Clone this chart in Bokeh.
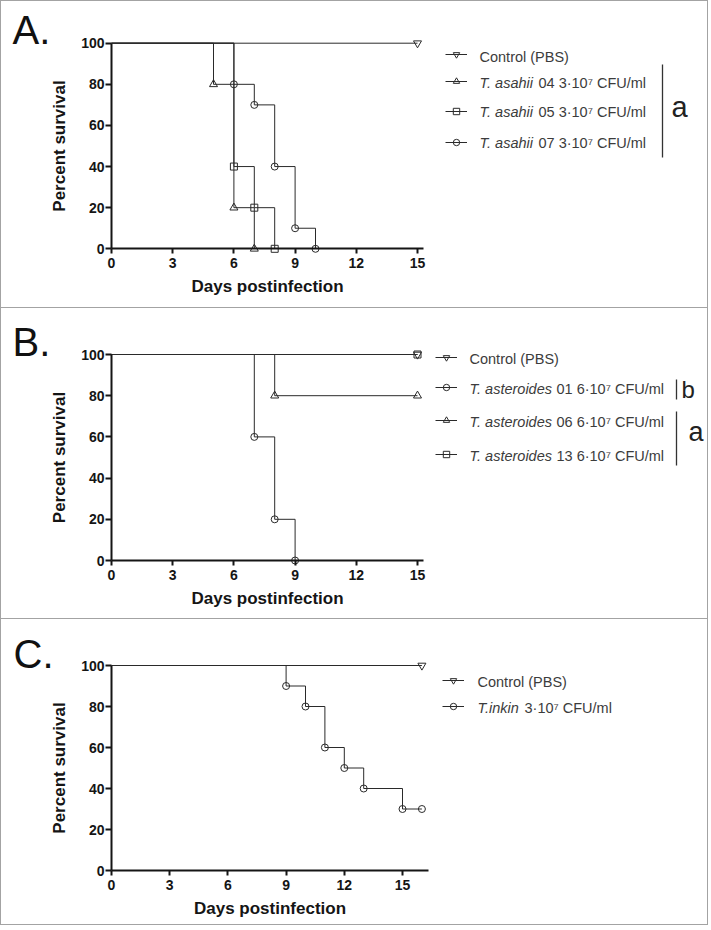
from bokeh.plotting import figure
from bokeh.models import Range1d, FixedTicker, Legend, LegendItem, Label, Arrow, LinearAxis
from bokeh.layouts import column
from bokeh.embed import file_html
from bokeh.resources import INLINE

# ---------------- data ----------------
x_ticks = [0, 3, 6, 9, 12, 15]
y_ticks = [0, 20, 40, 60, 80, 100]

# Panel A
a_ctrl_days = [0, 15]
a_ctrl_surv = [100, 100]
a_04_days = [0, 5, 6, 7]
a_04_surv = [100, 80, 20, 0]
a_05_days = [0, 6, 7, 8]
a_05_surv = [100, 40, 20, 0]
a_07_days = [0, 6, 7, 8, 9, 10]
a_07_surv = [100, 80, 70, 40, 10, 0]
a_italic = ["", "T. asahii", "T. asahii", "T. asahii"]
a_plain = ["Control (PBS)", "04 3\u00b710\u2077 CFU/ml", "05 3\u00b710\u2077 CFU/ml", "07 3\u00b710\u2077 CFU/ml"]
a_markers = ["inverted_triangle", "triangle", "square", "circle"]

# Panel B
b_ctrl_days = [0, 15]
b_ctrl_surv = [100, 100]
b_01_days = [0, 7, 8, 9]
b_01_surv = [100, 60, 20, 0]
b_06_days = [0, 8, 15]
b_06_surv = [100, 80, 80]
b_13_days = [0, 15]
b_13_surv = [100, 100]
b_italic = ["", "T. asteroides", "T. asteroides", "T. asteroides"]
b_plain = ["Control (PBS)", "01 6\u00b710\u2077 CFU/ml", "06 6\u00b710\u2077 CFU/ml", "13 6\u00b710\u2077 CFU/ml"]
b_markers = ["inverted_triangle", "circle", "triangle", "square"]

# Panel C
c_ctrl_days = [0, 16]
c_ctrl_surv = [100, 100]
c_inkin_days = [0, 9, 10, 11, 12, 13, 15, 16]
c_inkin_surv = [100, 90, 80, 60, 50, 40, 30, 30]
c_italic = ["", "T.inkin"]
c_plain = ["Control (PBS)", "3\u00b710\u2077 CFU/ml"]
c_markers = ["inverted_triangle", "circle"]

# ---------------- style ----------------
FONT = "Liberation Sans"
INK = "#151515"
LINE = "#2a2a2a"
TXT = "#3c3c3c"
BORDER = "1px solid #a3a3a3"
CANVAS_W = 708
X0_ABS = 111          # page x of day 0
GH = 16


def make_panel(letter, series, canvas_top, canvas_h, x_pxu, x_bound, y0_abs, y100_abs,
               glyph_x, glyph_rows, text_x, text_rows, plain_dx, italics, plains,
               letter_pos, brackets, last=False):
    styles = {"border-top": BORDER, "border-left": BORDER, "border-right": BORDER}
    if last:
        styles["border-bottom"] = BORDER
    y_pxu = (y0_abs - y100_abs) / 100.0
    canvas_left = 1
    x_start = (canvas_left - X0_ABS) / x_pxu
    x_end = (canvas_left + CANVAS_W - X0_ABS) / x_pxu
    y_end = 100 + (y100_abs - canvas_top) / y_pxu
    y_start = -(canvas_top + canvas_h - y0_abs) / y_pxu

    def sx(ax):
        return ax - canvas_left

    def sy(ay):
        return canvas_top + canvas_h - ay

    p = figure(width=CANVAS_W, height=canvas_h,
               x_range=Range1d(x_start, x_end), y_range=Range1d(y_start, y_end),
               min_border=0, x_axis_location=None, y_axis_location=None,
               toolbar_location=None, output_backend="svg",
               outline_line_color=None, background_fill_color="white",
               border_fill_color="white", styles=styles)
    p.grid.visible = False

    xaxis = LinearAxis(fixed_location=0, bounds=(0, x_bound), ticker=FixedTicker(ticks=x_ticks),
                       axis_label="Days postinfection")
    yaxis = LinearAxis(fixed_location=0, bounds=(0, 100), ticker=FixedTicker(ticks=y_ticks),
                       axis_label="Percent survival")
    for ax in (xaxis, yaxis):
        ax.axis_line_width = 2
        ax.axis_line_color = INK
        ax.major_tick_line_width = 2
        ax.major_tick_line_color = INK
        ax.major_tick_in = 0
        ax.minor_tick_in = 0
        ax.minor_tick_out = 0
        ax.major_label_text_font = FONT
        ax.major_label_text_font_style = "bold"
        ax.major_label_text_font_size = "14px"
        ax.major_label_text_color = INK
        ax.axis_label_text_font = FONT
        ax.axis_label_text_font_style = "bold"
        ax.axis_label_text_font_size = "17px"
        ax.axis_label_text_color = INK
    xaxis.major_tick_out = 5
    xaxis.major_label_standoff = 4
    xaxis.axis_label_standoff = 6
    yaxis.major_tick_out = 6
    yaxis.major_label_standoff = 1
    yaxis.axis_label_standoff = 9
    p.add_layout(xaxis, "below")
    p.add_layout(yaxis, "left")

    for i, (days, surv, marker) in enumerate(series):
        lr = p.step(x=days, y=surv, mode="after", line_color=LINE, line_width=1)
        msize = 8 if "triangle" in marker else 7
        sr = p.scatter(x=days[1:], y=surv[1:], marker=marker, size=msize,
                       fill_alpha=0, line_color=LINE, line_width=1)
        leg = Legend(items=[LegendItem(label=" ", renderers=[lr, sr])],
                     location=(sx(glyph_x), sy(glyph_rows[i] + GH / 2)),
                     padding=0, margin=0, spacing=0,
                     glyph_width=22, glyph_height=GH, label_height=GH,
                     label_width=1, label_standoff=0,
                     label_text_font_size="1px",
                     border_line_alpha=0, background_fill_alpha=0)
        p.add_layout(leg)
        ty = sy(text_rows[i])
        if italics[i]:
            p.add_layout(Label(x=sx(text_x), y=ty, x_units="screen", y_units="screen",
                               text=italics[i], text_font=FONT, text_font_size="14.5px",
                               text_font_style="italic", text_color=TXT,
                               text_baseline="middle", text_align="left"))
            px = text_x + plain_dx
        else:
            px = text_x
        p.add_layout(Label(x=sx(px), y=ty, x_units="screen", y_units="screen",
                           text=plains[i], text_font=FONT, text_font_size="14.5px",
                           text_color=TXT, text_baseline="middle", text_align="left"))

    lx, lc = letter_pos
    p.add_layout(Label(x=sx(lx), y=sy(lc), x_units="screen", y_units="screen",
                       text=letter, text_font=FONT, text_font_size="40px",
                       text_color="#111111", text_baseline="middle", text_align="left"))

    for (bx, y0, y1, tx, tc, tsize, t) in brackets:
        p.add_layout(Arrow(x_start=sx(bx), y_start=sy(y0), x_end=sx(bx), y_end=sy(y1),
                           start_units="screen", end_units="screen", start=None, end=None,
                           line_color="#333333", line_width=1.3))
        p.add_layout(Label(x=sx(tx), y=sy(tc), x_units="screen", y_units="screen",
                           text=t, text_font=FONT, text_font_size=tsize,
                           text_color="#222222", text_baseline="middle", text_align="left"))
    return p


pA = make_panel(
    "A.",
    [(a_ctrl_days, a_ctrl_surv, a_markers[0]), (a_04_days, a_04_surv, a_markers[1]),
     (a_05_days, a_05_surv, a_markers[2]), (a_07_days, a_07_surv, a_markers[3])],
    canvas_top=1, canvas_h=307, x_pxu=20.4, x_bound=15.3, y0_abs=248.3, y100_abs=42.7,
    glyph_x=445, glyph_rows=[54, 81, 110.5, 141.5],
    text_x=479, text_rows=[56, 82.7, 111.7, 142.7], plain_dx=59,
    italics=a_italic, plains=a_plain,
    letter_pos=(12, 29),
    brackets=[(662, 64, 157, 671, 106.6, "29px", "a")],
)

pB = make_panel(
    "B.",
    [(b_ctrl_days, b_ctrl_surv, b_markers[0]), (b_01_days, b_01_surv, b_markers[1]),
     (b_06_days, b_06_surv, b_markers[2]), (b_13_days, b_13_surv, b_markers[3])],
    canvas_top=309, canvas_h=311, x_pxu=20.4, x_bound=15.3, y0_abs=561, y100_abs=355,
    glyph_x=435, glyph_rows=[358, 388, 421, 455],
    text_x=469, text_rows=[359.5, 389.5, 422.5, 456.5], plain_dx=87,
    italics=b_italic, plains=b_plain,
    letter_pos=(12, 342.5),
    brackets=[(676, 380, 400, 681, 389.5, "24px", "b"),
              (676, 412, 466, 688, 432.6, "27px", "a")],
)

pC = make_panel(
    "C.",
    [(c_ctrl_days, c_ctrl_surv, c_markers[0]), (c_inkin_days, c_inkin_surv, c_markers[1])],
    canvas_top=621, canvas_h=307, x_pxu=19.4, x_bound=16.34, y0_abs=872, y100_abs=667,
    glyph_x=442, glyph_rows=[682, 708],
    text_x=477, text_rows=[683, 709.5], plain_dx=47,
    italics=c_italic, plains=c_plain,
    letter_pos=(13, 655.5),
    brackets=[],
    last=True,
)

layout = column(pA, pB, pC, spacing=0)
open("out.html", "w").write(file_html(layout, INLINE))
